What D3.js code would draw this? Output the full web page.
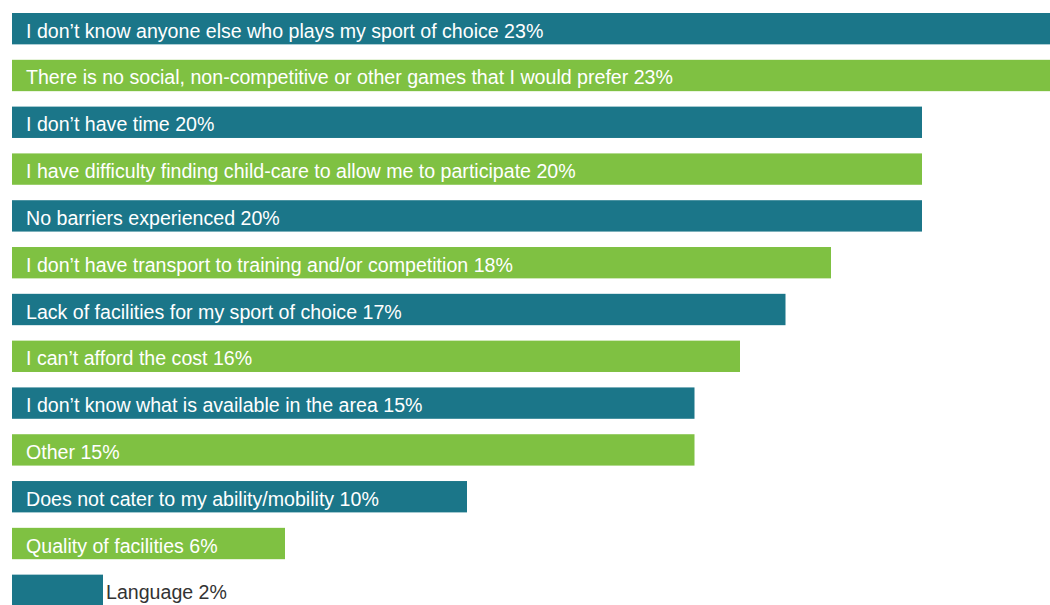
<!DOCTYPE html>
<html>
<head>
<meta charset="utf-8">
<script src="https://cdn.jsdelivr.net/npm/d3@7"></script>
<style>
  html, body { margin: 0; padding: 0; background: #ffffff; }
  svg { display: block; }
  text { font-family: "Liberation Sans", Arial, sans-serif; }
</style>
</head>
<body>
<svg id="chart" width="1050" height="605"></svg>
<script>
// Barriers to participation, share of respondents (%)
const barriers = [
  "I don\u2019t know anyone else who plays my sport of choice",
  "There is no social, non-competitive or other games that I would prefer",
  "I don\u2019t have time",
  "I have difficulty finding child-care to allow me to participate",
  "No barriers experienced",
  "I don\u2019t have transport to training and/or competition",
  "Lack of facilities for my sport of choice",
  "I can\u2019t afford the cost",
  "I don\u2019t know what is available in the area",
  "Other",
  "Does not cater to my ability/mobility",
  "Quality of facilities",
  "Language"
];
const shares = [23, 23, 20, 20, 20, 18, 17, 16, 15, 15, 10, 6, 2];
const palette = ["#1b7689", "#7fc142"];

const svg = d3.select("#chart");

const x = d3.scaleLinear().domain([0, 23]).range([12, 1058.5]);
const y = d3.scaleBand()
  .domain(barriers)
  .range([13, 606])
  .paddingInner(0.33)
  .paddingOuter(0);

const rows = barriers.map((name, i) => ({ name, value: shares[i], i }));

const g = svg.append("g");

g.selectAll("rect.bar")
  .data(rows)
  .join("rect")
  .attr("class", "bar")
  .attr("x", x(0))
  .attr("y", d => y(d.name))
  .attr("width", d => x(d.value) - x(0))
  .attr("height", y.bandwidth())
  .attr("fill", d => palette[d.i % 2]);

// Labels sit inside the bar when it is long enough, otherwise just past its end
const fontSize = 19.6;
g.selectAll("text.lbl")
  .data(rows)
  .join("text")
  .attr("class", "lbl")
  .attr("font-size", fontSize)
  .attr("dominant-baseline", "central")
  .attr("y", d => y(d.name) + y.bandwidth() / 2 + 2)
  .text(d => `${d.name} ${d.value}%`)
  .each(function (d) {
    const w = this.getComputedTextLength();
    const inside = x(d.value) - x(0) > w + 20;
    d3.select(this)
      .attr("x", inside ? x(0) + 14 : x(d.value) + 3)
      .attr("fill", inside ? "#ffffff" : "#333333");
  });
</script>
</body>
</html>
